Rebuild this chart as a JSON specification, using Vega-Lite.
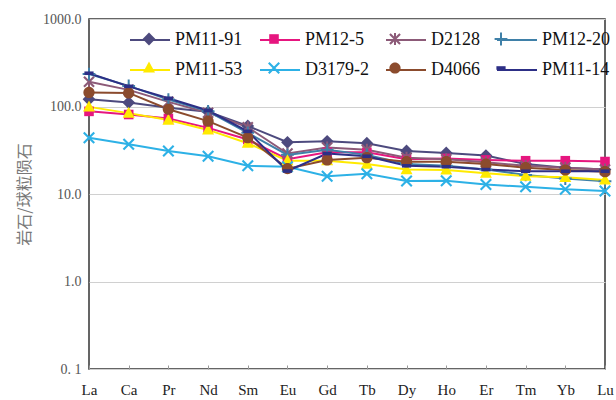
{
  "$schema": "https://vega.github.io/schema/vega-lite/v6.json",
  "autosize": {"type": "none"},
  "width": 516,
  "height": 350,
  "padding": {"left": 89, "top": 19, "right": 11, "bottom": 31},
  "background": "white",
  "config": {
    "font": "Liberation Serif",
    "view": {"stroke": "#333333", "strokeWidth": 1.5},
    "axis": {"labelFont": "Liberation Serif", "titleFont": "Liberation Serif"},
    "legend": {"labelFont": "Liberation Serif"}
  },
  "data": {
    "values": [
      {"sample": "PM11-91", "el": "La", "v": 121}, {"sample": "PM11-91", "el": "Ca", "v": 111}, {"sample": "PM11-91", "el": "Pr", "v": 97}, {"sample": "PM11-91", "el": "Nd", "v": 87}, {"sample": "PM11-91", "el": "Sm", "v": 60}, {"sample": "PM11-91", "el": "Eu", "v": 39}, {"sample": "PM11-91", "el": "Gd", "v": 40}, {"sample": "PM11-91", "el": "Tb", "v": 38}, {"sample": "PM11-91", "el": "Dy", "v": 31}, {"sample": "PM11-91", "el": "Ho", "v": 29.5}, {"sample": "PM11-91", "el": "Er", "v": 27.5}, {"sample": "PM11-91", "el": "Tm", "v": 22}, {"sample": "PM11-91", "el": "Yb", "v": 20}, {"sample": "PM11-91", "el": "Lu", "v": 19},
      {"sample": "PM12-5", "el": "La", "v": 88}, {"sample": "PM12-5", "el": "Ca", "v": 81}, {"sample": "PM12-5", "el": "Pr", "v": 73}, {"sample": "PM12-5", "el": "Nd", "v": 57}, {"sample": "PM12-5", "el": "Sm", "v": 42}, {"sample": "PM12-5", "el": "Eu", "v": 25}, {"sample": "PM12-5", "el": "Gd", "v": 30}, {"sample": "PM12-5", "el": "Tb", "v": 30}, {"sample": "PM12-5", "el": "Dy", "v": 25}, {"sample": "PM12-5", "el": "Ho", "v": 25.5}, {"sample": "PM12-5", "el": "Er", "v": 24.5}, {"sample": "PM12-5", "el": "Tm", "v": 24}, {"sample": "PM12-5", "el": "Yb", "v": 24}, {"sample": "PM12-5", "el": "Lu", "v": 23.5},
      {"sample": "D2128", "el": "La", "v": 192}, {"sample": "D2128", "el": "Ca", "v": 155}, {"sample": "D2128", "el": "Pr", "v": 113}, {"sample": "D2128", "el": "Nd", "v": 85}, {"sample": "D2128", "el": "Sm", "v": 58}, {"sample": "D2128", "el": "Eu", "v": 29}, {"sample": "D2128", "el": "Gd", "v": 34}, {"sample": "D2128", "el": "Tb", "v": 32}, {"sample": "D2128", "el": "Dy", "v": 26}, {"sample": "D2128", "el": "Ho", "v": 25}, {"sample": "D2128", "el": "Er", "v": 23}, {"sample": "D2128", "el": "Tm", "v": 21}, {"sample": "D2128", "el": "Yb", "v": 20}, {"sample": "D2128", "el": "Lu", "v": 19},
      {"sample": "PM12-20", "el": "La", "v": 235}, {"sample": "PM12-20", "el": "Ca", "v": 172}, {"sample": "PM12-20", "el": "Pr", "v": 120}, {"sample": "PM12-20", "el": "Nd", "v": 88}, {"sample": "PM12-20", "el": "Sm", "v": 50}, {"sample": "PM12-20", "el": "Eu", "v": 28}, {"sample": "PM12-20", "el": "Gd", "v": 32}, {"sample": "PM12-20", "el": "Tb", "v": 28}, {"sample": "PM12-20", "el": "Dy", "v": 22}, {"sample": "PM12-20", "el": "Ho", "v": 21}, {"sample": "PM12-20", "el": "Er", "v": 19}, {"sample": "PM12-20", "el": "Tm", "v": 16.5}, {"sample": "PM12-20", "el": "Yb", "v": 15}, {"sample": "PM12-20", "el": "Lu", "v": 14},
      {"sample": "PM11-53", "el": "La", "v": 99}, {"sample": "PM11-53", "el": "Ca", "v": 84}, {"sample": "PM11-53", "el": "Pr", "v": 70}, {"sample": "PM11-53", "el": "Nd", "v": 54}, {"sample": "PM11-53", "el": "Sm", "v": 38}, {"sample": "PM11-53", "el": "Eu", "v": 24}, {"sample": "PM11-53", "el": "Gd", "v": 24}, {"sample": "PM11-53", "el": "Tb", "v": 22}, {"sample": "PM11-53", "el": "Dy", "v": 19}, {"sample": "PM11-53", "el": "Ho", "v": 18.8}, {"sample": "PM11-53", "el": "Er", "v": 17.3}, {"sample": "PM11-53", "el": "Tm", "v": 16}, {"sample": "PM11-53", "el": "Yb", "v": 15.5}, {"sample": "PM11-53", "el": "Lu", "v": 14.5},
      {"sample": "D3179-2", "el": "La", "v": 44}, {"sample": "D3179-2", "el": "Ca", "v": 37}, {"sample": "D3179-2", "el": "Pr", "v": 31}, {"sample": "D3179-2", "el": "Nd", "v": 27}, {"sample": "D3179-2", "el": "Sm", "v": 21}, {"sample": "D3179-2", "el": "Eu", "v": 20.5}, {"sample": "D3179-2", "el": "Gd", "v": 16}, {"sample": "D3179-2", "el": "Tb", "v": 17}, {"sample": "D3179-2", "el": "Dy", "v": 14.1}, {"sample": "D3179-2", "el": "Ho", "v": 14.2}, {"sample": "D3179-2", "el": "Er", "v": 12.8}, {"sample": "D3179-2", "el": "Tm", "v": 12.1}, {"sample": "D3179-2", "el": "Yb", "v": 11.3}, {"sample": "D3179-2", "el": "Lu", "v": 10.8},
      {"sample": "D4066", "el": "La", "v": 145}, {"sample": "D4066", "el": "Ca", "v": 143}, {"sample": "D4066", "el": "Pr", "v": 93}, {"sample": "D4066", "el": "Nd", "v": 68}, {"sample": "D4066", "el": "Sm", "v": 44}, {"sample": "D4066", "el": "Eu", "v": 19.5}, {"sample": "D4066", "el": "Gd", "v": 24.5}, {"sample": "D4066", "el": "Tb", "v": 26}, {"sample": "D4066", "el": "Dy", "v": 23.4}, {"sample": "D4066", "el": "Ho", "v": 23.4}, {"sample": "D4066", "el": "Er", "v": 22}, {"sample": "D4066", "el": "Tm", "v": 20}, {"sample": "D4066", "el": "Yb", "v": 18.8}, {"sample": "D4066", "el": "Lu", "v": 18},
      {"sample": "PM11-14", "el": "La", "v": 240}, {"sample": "PM11-14", "el": "Ca", "v": 170}, {"sample": "PM11-14", "el": "Pr", "v": 124}, {"sample": "PM11-14", "el": "Nd", "v": 90}, {"sample": "PM11-14", "el": "Sm", "v": 52}, {"sample": "PM11-14", "el": "Eu", "v": 18.3}, {"sample": "PM11-14", "el": "Gd", "v": 29}, {"sample": "PM11-14", "el": "Tb", "v": 27}, {"sample": "PM11-14", "el": "Dy", "v": 21}, {"sample": "PM11-14", "el": "Ho", "v": 20.5}, {"sample": "PM11-14", "el": "Er", "v": 19}, {"sample": "PM11-14", "el": "Tm", "v": 18.2}, {"sample": "PM11-14", "el": "Yb", "v": 18.2}, {"sample": "PM11-14", "el": "Lu", "v": 18.2}
    ]
  },
  "encoding": {
    "x": {
      "field": "el", "type": "nominal",
      "scale": {"type": "point", "padding": 0, "domain": ["La", "Ca", "Pr", "Nd", "Sm", "Eu", "Gd", "Tb", "Dy", "Ho", "Er", "Tm", "Yb", "Lu"]},
      "axis": {"title": null, "labelAngle": 0, "labelFontSize": 15, "labelColor": "#222222", "labelPadding": 17, "domain": false, "grid": false, "ticks": true, "tickSize": -4, "tickColor": "#999999", "labelBaseline": "top"}
    },
    "y": {
      "field": "v", "type": "quantitative",
      "scale": {"type": "log", "domain": [0.1, 1000], "nice": false},
      "axis": {"title": "岩石/球粒陨石", "titleFont": "Noto Sans CJK SC", "titleFontSize": 16, "titleFontWeight": "normal", "titleColor": "#777777", "titlePadding": 10,
        "values": [0.1, 1, 10, 100, 1000], "labelExpr": "datum.value >= 1 ? format(datum.value, '.1f') : '0. 1'",
        "labelFontSize": 14, "labelColor": "#555555", "labelPadding": 8, "ticks": false, "domain": false,
        "grid": true, "gridColor": "#d0d0d0", "gridWidth": 1.2}
    }
  },
  "layer": [
    {
      "mark": {"type": "line", "strokeWidth": 2},
      "encoding": {
        "stroke": {
          "field": "sample", "type": "nominal",
          "scale": {"domain": ["PM11-91", "PM12-5", "D2128", "PM12-20", "PM11-53", "D3179-2", "D4066", "PM11-14"],
                    "range": ["#4d4a7e", "#e6167f", "#8c5a78", "#3f80a8", "#ffea00", "#2db1e6", "#8b4b2d", "#2d2f86"]},
          "legend": {"orient": "none", "legendX": 40, "legendY": 0, "columns": 4, "direction": "horizontal", "title": null, "symbolType": "stroke", "symbolSize": 1600, "symbolStrokeWidth": 2,
                     "labelFont": "Liberation Serif", "labelFontSize": 18, "labelOffset": 4, "columnPadding": 13, "rowPadding": -6, "padding": 0, "labelColor": "#111111"}
        }
      }
    },
    {
      "mark": {"type": "point", "filled": true, "opacity": 1, "size": 1600, "strokeWidth": 0},
      "encoding": {
        "color": {
          "field": "sample", "type": "nominal", "sort": null,
          "scale": {"range": ["#4d4a7e", "#e6167f", "#8c5a78", "#3f80a8", "#ffea00", "#2db1e6", "#8b4b2d", "#2d2f86"]},
          "legend": {"orient": "none", "legendX": 40, "legendY": 0, "columns": 4, "direction": "horizontal", "title": null, "symbolSize": 1600, "symbolStrokeWidth": 0,
                     "labelFont": "Liberation Serif", "labelFontSize": 18, "labelOpacity": 0, "labelOffset": 4, "columnPadding": 13, "rowPadding": -6, "padding": 0, "labelColor": "#111111"}
        },
        "shape": {
          "field": "sample", "type": "nominal", "sort": null,
          "scale": {"range": [
            "M0,-0.32L0.32,0L0,0.32L-0.32,0Z",
            "M-0.24,-0.24L0.24,-0.24L0.24,0.24L-0.24,0.24Z",
            "M-0.215,-0.29L0.29,0.215L0.215,0.29L-0.29,-0.215ZM0.215,-0.29L0.29,-0.215L-0.215,0.29L-0.29,0.215ZM-0.05,-0.3L0.05,-0.3L0.05,0.3L-0.05,0.3Z",
            "M-0.32,-0.05L0.32,-0.05L0.32,0.05L-0.32,0.05ZM-0.05,-0.32L0.05,-0.32L0.05,0.32L-0.05,0.32Z",
            "M0,-0.32L0.3,0.23L-0.3,0.23Z",
            "M-0.225,-0.3L0.3,0.225L0.225,0.3L-0.3,-0.225ZM0.225,-0.3L0.3,-0.225L-0.225,0.3L-0.3,0.225Z",
            "M-0.28,0A0.28,0.28 0 1,1 0.28,0A0.28,0.28 0 1,1 -0.28,0Z",
            "M-0.23,-0.09L0.23,-0.09L0.23,0.09L-0.23,0.09Z"
          ]},
          "legend": {"orient": "none", "legendX": 40, "legendY": 0, "columns": 4, "direction": "horizontal", "title": null, "symbolSize": 1600, "symbolStrokeWidth": 0,
                     "labelFont": "Liberation Serif", "labelFontSize": 18, "labelOpacity": 0, "labelOffset": 4, "columnPadding": 13, "rowPadding": -6, "padding": 0, "labelColor": "#111111"}
        }
      }
    }
  ]
}
